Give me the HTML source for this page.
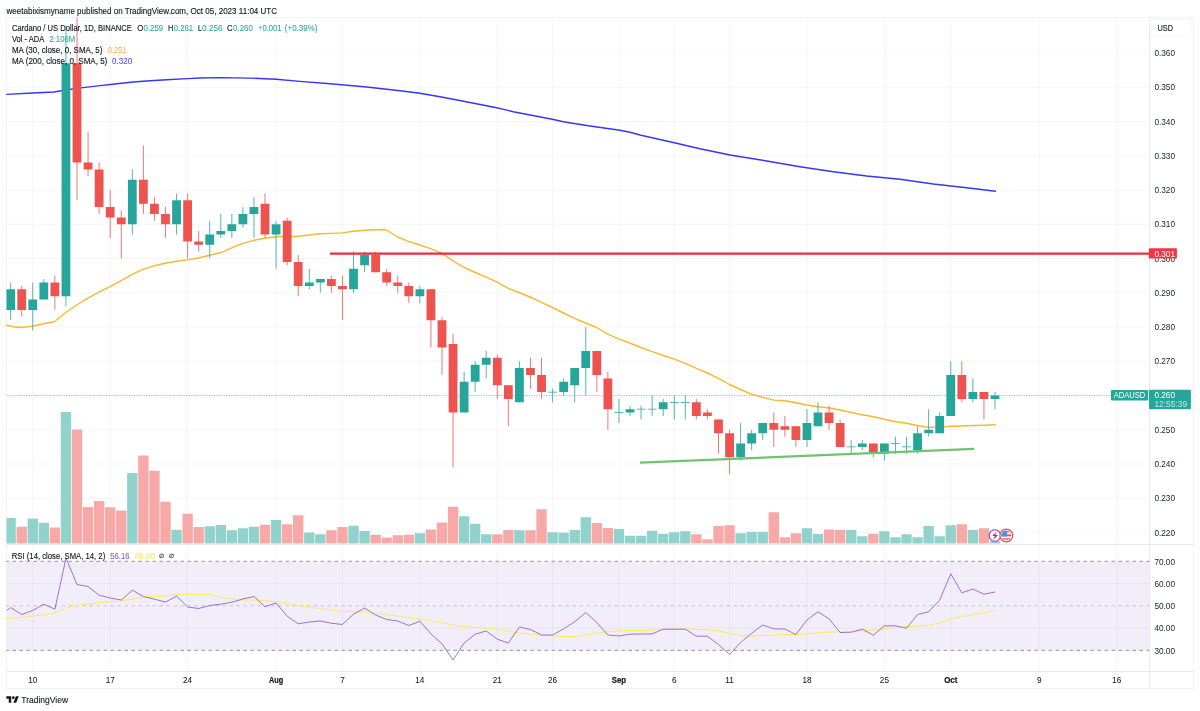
<!DOCTYPE html>
<html lang="en"><head><meta charset="utf-8"><title>ADAUSD chart</title>
<style>html,body{margin:0;padding:0;background:#fff}body{width:1200px;height:711px;overflow:hidden}svg{display:block}</style>
</head><body>
<svg width="1200" height="711" viewBox="0 0 1200 711" font-family="'Liberation Sans', sans-serif">
<rect width="1200" height="711" fill="#fff"/>
<defs><clipPath id="cm"><rect x="6.3" y="17.4" width="1143.2" height="527.1"/></clipPath><clipPath id="cr"><rect x="6.3" y="544.5" width="1143.2" height="127.0"/></clipPath></defs>
<rect x="6.3" y="561.30" width="1143.20" height="89.00" fill="#f1eefa"/>
<path d="M32.77 17.4V671.5M110.19 17.4V671.5M187.61 17.4V671.5M276.09 17.4V671.5M342.45 17.4V671.5M419.87 17.4V671.5M497.29 17.4V671.5M552.59 17.4V671.5M618.95 17.4V671.5M674.25 17.4V671.5M729.55 17.4V671.5M806.97 17.4V671.5M884.39 17.4V671.5M950.75 17.4V671.5M1039.23 17.4V671.5M1116.65 17.4V671.5M6.3 532.50H1149.5M6.3 498.25H1149.5M6.3 464.00H1149.5M6.3 429.75H1149.5M6.3 395.50H1149.5M6.3 361.25H1149.5M6.3 327.00H1149.5M6.3 292.75H1149.5M6.3 258.50H1149.5M6.3 224.25H1149.5M6.3 190.00H1149.5M6.3 155.75H1149.5M6.3 121.50H1149.5M6.3 87.25H1149.5M6.3 53.00H1149.5M6.3 583.55H1149.5M6.3 628.05H1149.5" stroke="#2a2e39" stroke-opacity="0.042" stroke-width="1" fill="none"/>
<path d="M6.3 17.4H1193.5V688.5H6.3Z" stroke="#eeeff2" stroke-width="0.9" fill="none"/>
<path d="M1149.5 17.4V688.5 M6.3 544.5H1193.5 M6.3 671.5H1193.5" stroke="#e7e8ec" stroke-width="0.9" fill="none"/>
<path d="M6.3 561.30H1149.5M6.3 650.30H1149.5" stroke="#787b86" stroke-width="0.8" stroke-dasharray="3.5 3.5" stroke-dashoffset="0.8" fill="none"/>
<path d="M6.3 605.80H1149.5" stroke="#787b86" stroke-opacity="0.45" stroke-width="0.8" stroke-dasharray="3.5 3.5" stroke-dashoffset="0.8" fill="none"/>
<g clip-path="url(#cm)"><path d="M6.30 518.10H15.83V543.5H6.30ZM27.59 518.50H37.95V543.5H27.59ZM38.65 522.70H49.01V543.5H38.65ZM60.77 412.10H71.13V543.5H60.77ZM127.13 472.90H137.49V543.5H127.13ZM171.37 529.80H181.73V543.5H171.37ZM204.55 526.30H214.91V543.5H204.55ZM215.61 525.00H225.97V543.5H215.61ZM226.67 530.30H237.03V543.5H226.67ZM237.73 528.20H248.09V543.5H237.73ZM248.79 526.70H259.15V543.5H248.79ZM270.91 520.00H281.27V543.5H270.91ZM304.09 532.50H314.45V543.5H304.09ZM315.15 534.20H325.51V543.5H315.15ZM348.33 525.70H358.69V543.5H348.33ZM359.39 531.00H369.75V543.5H359.39ZM414.69 533.30H425.05V543.5H414.69ZM458.93 516.20H469.29V543.5H458.93ZM469.99 523.80H480.35V543.5H469.99ZM481.05 534.20H491.41V543.5H481.05ZM514.23 530.30H524.59V543.5H514.23ZM547.41 532.20H557.77V543.5H547.41ZM558.47 532.80H568.83V543.5H558.47ZM569.53 530.00H579.89V543.5H569.53ZM580.59 517.20H590.95V543.5H580.59ZM613.77 529.00H624.13V543.5H613.77ZM624.83 535.70H635.19V543.5H624.83ZM635.89 535.70H646.25V543.5H635.89ZM646.95 530.80H657.31V543.5H646.95ZM658.01 533.80H668.37V543.5H658.01ZM669.07 532.30H679.43V543.5H669.07ZM680.13 531.20H690.49V543.5H680.13ZM735.43 533.30H745.79V543.5H735.43ZM746.49 531.80H756.85V543.5H746.49ZM757.55 531.80H767.91V543.5H757.55ZM801.79 528.30H812.15V543.5H801.79ZM812.85 534.00H823.21V543.5H812.85ZM846.03 530.00H856.39V543.5H846.03ZM857.09 536.20H867.45V543.5H857.09ZM879.21 531.30H889.57V543.5H879.21ZM890.27 537.20H900.63V543.5H890.27ZM901.33 534.20H911.69V543.5H901.33ZM912.39 537.20H922.75V543.5H912.39ZM923.45 526.00H933.81V543.5H923.45ZM934.51 536.20H944.87V543.5H934.51ZM945.57 525.20H955.93V543.5H945.57ZM967.69 530.00H978.05V543.5H967.69ZM989.81 541.30H1000.17V543.5H989.81Z" fill="#92d2cc"/><path d="M16.53 526.70H26.89V543.5H16.53ZM49.71 527.50H60.07V543.5H49.71ZM71.83 429.60H82.19V543.5H71.83ZM82.89 506.90H93.25V543.5H82.89ZM93.95 501.00H104.31V543.5H93.95ZM105.01 507.30H115.37V543.5H105.01ZM116.07 510.40H126.43V543.5H116.07ZM138.19 455.60H148.55V543.5H138.19ZM149.25 470.80H159.61V543.5H149.25ZM160.31 501.70H170.67V543.5H160.31ZM182.43 513.70H192.79V543.5H182.43ZM193.49 527.00H203.85V543.5H193.49ZM259.85 524.70H270.21V543.5H259.85ZM281.97 524.20H292.33V543.5H281.97ZM293.03 515.30H303.39V543.5H293.03ZM326.21 530.30H336.57V543.5H326.21ZM337.27 527.00H347.63V543.5H337.27ZM370.45 534.70H380.81V543.5H370.45ZM381.51 537.50H391.87V543.5H381.51ZM392.57 535.30H402.93V543.5H392.57ZM403.63 534.70H413.99V543.5H403.63ZM425.75 529.50H436.11V543.5H425.75ZM436.81 522.50H447.17V543.5H436.81ZM447.87 506.70H458.23V543.5H447.87ZM492.11 534.20H502.47V543.5H492.11ZM503.17 530.00H513.53V543.5H503.17ZM525.29 530.30H535.65V543.5H525.29ZM536.35 509.20H546.71V543.5H536.35ZM591.65 523.00H602.01V543.5H591.65ZM602.71 528.00H613.07V543.5H602.71ZM691.19 534.20H701.55V543.5H691.19ZM702.25 539.20H712.61V543.5H702.25ZM713.31 526.00H723.67V543.5H713.31ZM724.37 525.20H734.73V543.5H724.37ZM768.61 512.20H778.97V543.5H768.61ZM779.67 537.20H790.03V543.5H779.67ZM790.73 533.20H801.09V543.5H790.73ZM823.91 529.50H834.27V543.5H823.91ZM834.97 530.00H845.33V543.5H834.97ZM868.15 533.80H878.51V543.5H868.15ZM956.63 524.20H966.99V543.5H956.63ZM978.75 528.30H989.11V543.5H978.75Z" fill="#f7a9a7"/></g>
<g clip-path="url(#cm)">
<path d="M6.3 325.3L13.3 326.7L21.7 327.5L32.5 326.3L43.3 323.7L54.2 321.7L65.8 312.5L76.7 305.0L88.3 297.8L100.0 291.7L110.0 286.7L120.8 280.8L131.7 274.7L143.3 269.2L154.2 265.8L165.0 263.3L176.7 261.2L187.5 259.9L198.3 258.0L209.5 255.3L220.5 252.8L231.7 247.8L242.8 243.3L253.5 240.3L264.7 238.3L276.0 236.7L287.2 236.7L298.3 236.3L309.2 235.0L320.2 233.8L331.3 233.4L342.5 232.9L353.5 231.3L364.5 230.2L375.4 229.7L383.0 229.5L386.5 230.0L397.5 237.0L408.5 241.3L419.7 245.0L430.7 248.7L442.0 253.3L453.0 260.8L464.2 267.5L475.2 272.5L486.2 277.2L497.2 282.2L508.2 288.3L519.2 292.5L530.0 297.0L541.5 302.3L552.5 307.5L563.5 313.0L574.5 318.3L585.5 323.0L596.7 327.5L607.8 334.2L619.2 339.2L629.8 343.0L640.8 347.5L652.2 351.7L663.3 355.5L674.5 359.2L685.3 363.3L696.3 368.3L707.5 373.0L718.5 378.3L729.5 384.5L740.5 389.5L751.5 394.2L762.7 397.4L773.8 400.1L785.0 400.8L795.8 402.8L807.0 405.0L818.2 406.7L829.3 408.0L840.3 410.0L851.3 412.5L862.3 414.7L873.5 416.7L884.5 419.2L895.5 421.7L906.5 423.3L917.5 425.5L928.6 427.2L939.8 427.1L950.9 426.3L961.7 426.0L972.8 425.5L984.2 425.2L995.3 424.7" stroke="#fbb72e" stroke-width="1.4" fill="none" stroke-linejoin="round" stroke-linecap="round"/>
<path d="M6.3 94.4L32.5 93.0L54.0 92.0L65.7 90.0L76.7 88.4L100.0 85.6L112.5 84.3L133.3 82.0L150.0 80.8L166.7 79.7L187.5 78.6L200.0 78.0L220.0 77.6L250.0 78.1L276.0 79.3L300.0 81.4L333.3 84.0L366.7 87.0L400.0 90.7L420.0 93.3L440.0 96.7L453.3 99.3L496.7 107.7L513.3 111.7L552.3 119.3L563.3 121.7L590.0 126.0L620.0 130.3L630.0 132.3L640.0 135.0L674.3 142.7L700.0 148.7L730.0 155.0L766.7 161.0L800.0 166.7L833.3 171.7L866.7 176.0L900.0 179.3L933.3 184.0L966.7 187.7L995.5 191.2" stroke="#3734ff" stroke-width="1.4" fill="none" stroke-linejoin="round" stroke-linecap="round"/>
<path d="M10.65 282.48V320.15M32.77 282.48V330.43M43.83 279.05V299.60M65.95 25.60V306.45M132.31 169.45V234.53M176.55 193.43V234.53M209.73 220.82V258.50M220.79 213.97V237.95M231.85 213.97V237.95M242.91 207.12V227.68M253.97 196.85V237.95M276.09 220.82V268.77M309.27 268.77V289.32M320.33 279.05V292.75M353.51 251.65V292.75M364.57 251.65V272.20M419.87 285.90V303.02M464.11 371.52V412.62M475.17 361.25V392.07M486.23 350.98V378.38M519.41 361.25V402.35M552.59 388.65V402.35M563.65 378.38V395.50M574.71 368.10V402.35M585.77 327.00V395.50M618.95 398.92V422.90M630.01 405.77V416.05M641.07 405.77V419.48M652.13 395.50V416.05M663.19 398.92V416.05M674.25 395.50V419.48M685.31 395.50V419.48M740.61 422.90V460.57M751.67 429.75V450.30M762.73 422.90V440.02M806.97 409.20V446.88M818.03 402.35V426.32M851.21 440.02V453.73M862.27 440.02V450.30M884.39 443.45V460.57M895.45 436.60V453.73M906.51 436.60V453.73M917.57 426.32V453.73M928.63 409.20V436.60M939.69 412.62V433.17M950.75 361.25V416.05M972.87 378.38V402.35M994.99 392.07V409.20" stroke="#26a69a" stroke-width="0.8" fill="none"/>
<path d="M21.71 285.90V316.73M54.89 275.62V309.88M77.01 14.00V200.28M88.07 131.78V176.30M99.13 162.60V213.97M110.19 190.00V237.95M121.25 210.55V258.50M143.37 145.48V213.97M154.43 196.85V220.82M165.49 207.12V237.95M187.61 193.43V258.50M198.67 231.10V251.65M265.03 193.43V237.95M287.15 217.40V265.35M298.21 255.07V296.18M331.39 275.62V292.75M342.45 275.62V320.15M375.63 251.65V272.20M386.69 268.77V285.90M397.75 275.62V292.75M408.81 282.48V303.02M430.93 289.32V347.55M441.99 316.73V374.95M453.05 333.85V467.42M497.29 354.40V398.92M508.35 385.23V426.32M530.47 357.82V388.65M541.53 357.82V398.92M596.83 350.98V392.07M607.89 371.52V429.75M696.37 398.92V419.48M707.43 409.20V419.48M718.49 419.48V453.73M729.55 429.75V474.27M773.79 412.62V446.88M784.85 416.05V436.60M795.91 426.32V446.88M829.09 405.77V429.75M840.15 419.48V446.88M873.33 443.45V457.15M961.81 361.25V402.35M983.93 392.07V419.48" stroke="#ef5350" stroke-width="0.8" fill="none"/>
<path d="M6.25 289.32H15.05V309.88H6.25ZM28.37 299.60H37.17V309.88H28.37ZM39.43 282.48H48.23V299.60H39.43ZM61.55 63.28H70.35V296.18H61.55ZM127.91 179.73H136.71V224.25H127.91ZM172.15 200.28H180.95V224.25H172.15ZM205.33 234.53H214.13V244.80H205.33ZM216.39 231.10H225.19V234.53H216.39ZM227.45 224.25H236.25V231.10H227.45ZM238.51 213.97H247.31V224.25H238.51ZM249.57 207.12H258.37V213.97H249.57ZM271.69 224.25H280.49V234.53H271.69ZM304.87 282.48H313.67V285.90H304.87ZM315.93 279.05H324.73V282.48H315.93ZM349.11 268.77H357.91V289.32H349.11ZM360.17 255.07H368.97V265.35H360.17ZM415.47 289.32H424.27V296.18H415.47ZM459.71 381.80H468.51V412.62H459.71ZM470.77 364.68H479.57V381.80H470.77ZM481.83 357.82H490.63V364.68H481.83ZM515.01 368.10H523.81V402.35H515.01ZM548.19 391.68H556.99V392.47H548.19ZM559.25 381.80H568.05V392.07H559.25ZM570.31 368.10H579.11V385.23H570.31ZM581.37 350.98H590.17V368.10H581.37ZM614.55 412.23H623.35V413.02H614.55ZM625.61 409.20H634.41V412.62H625.61ZM636.67 408.80H645.47V409.60H636.67ZM647.73 408.80H656.53V409.60H647.73ZM658.79 402.35H667.59V409.20H658.79ZM669.85 401.95H678.65V402.75H669.85ZM680.91 401.95H689.71V402.75H680.91ZM736.21 443.45H745.01V457.15H736.21ZM747.27 433.17H756.07V443.45H747.27ZM758.33 422.90H767.13V433.17H758.33ZM802.57 422.90H811.37V440.02H802.57ZM813.63 412.62H822.43V426.32H813.63ZM846.81 446.48H855.61V447.27H846.81ZM857.87 443.45H866.67V446.88H857.87ZM879.99 443.45H888.79V453.73H879.99ZM891.05 443.05H899.85V443.85H891.05ZM902.11 446.48H910.91V447.27H902.11ZM913.17 433.17H921.97V450.30H913.17ZM924.23 429.75H933.03V433.17H924.23ZM935.29 416.05H944.09V433.17H935.29ZM946.35 374.95H955.15V416.05H946.35ZM968.47 392.07H977.27V398.92H968.47ZM990.59 395.50H999.39V398.92H990.59Z" fill="#26a69a"/>
<path d="M17.31 289.32H26.11V309.88H17.31ZM50.49 282.48H59.29V296.18H50.49ZM72.61 63.28H81.41V162.60H72.61ZM83.67 162.60H92.47V169.45H83.67ZM94.73 169.45H103.53V207.12H94.73ZM105.79 207.12H114.59V217.40H105.79ZM116.85 217.40H125.65V224.25H116.85ZM138.97 179.73H147.77V203.70H138.97ZM150.03 203.70H158.83V213.97H150.03ZM161.09 213.97H169.89V224.25H161.09ZM183.21 200.28H192.01V241.38H183.21ZM194.27 241.38H203.07V244.80H194.27ZM260.63 203.70H269.43V234.53H260.63ZM282.75 220.82H291.55V261.93H282.75ZM293.81 261.93H302.61V285.90H293.81ZM326.99 279.05H335.79V285.90H326.99ZM338.05 285.90H346.85V289.32H338.05ZM371.23 255.07H380.03V272.20H371.23ZM382.29 272.20H391.09V282.48H382.29ZM393.35 282.48H402.15V285.90H393.35ZM404.41 285.90H413.21V296.18H404.41ZM426.53 289.32H435.33V320.15H426.53ZM437.59 320.15H446.39V347.55H437.59ZM448.65 344.12H457.45V412.62H448.65ZM492.89 357.82H501.69V385.23H492.89ZM503.95 385.23H512.75V398.92H503.95ZM526.07 368.10H534.87V374.95H526.07ZM537.13 374.95H545.93V392.07H537.13ZM592.43 350.98H601.23V374.95H592.43ZM603.49 378.38H612.29V409.20H603.49ZM691.97 402.35H700.77V416.05H691.97ZM703.03 412.62H711.83V416.05H703.03ZM714.09 419.48H722.89V433.17H714.09ZM725.15 433.17H733.95V457.15H725.15ZM769.39 422.90H778.19V429.75H769.39ZM780.45 426.32H789.25V429.75H780.45ZM791.51 426.32H800.31V440.02H791.51ZM824.69 412.62H833.49V422.90H824.69ZM835.75 422.90H844.55V446.88H835.75ZM868.93 443.45H877.73V453.73H868.93ZM957.41 374.95H966.21V398.92H957.41ZM979.53 392.07H988.33V398.92H979.53Z" fill="#ef5350"/>
<path d="M330 253.6H1149.5" stroke="#f0283f" stroke-width="2.4" fill="none"/>
<path d="M640 462.7L974 448.9" stroke="#70c273" stroke-width="2.3" fill="none"/>
</g>
<path d="M6.3 395.50H1111" stroke="#26a69a" stroke-width="0.9" stroke-dasharray="1.0 1.5" stroke-opacity="0.6" fill="none"/>
<g clip-path="url(#cr)">
<path d="M6.3 618.8L10.7 618.2L21.7 617.5L32.8 616.2L43.8 615.0L54.9 613.0L66.0 608.0L77.0 605.5L88.1 603.8L99.1 602.5L110.2 602.0L121.3 601.0L132.3 599.2L143.4 597.2L154.4 596.5L165.5 596.0L176.6 594.8L187.6 594.2L198.7 594.8L209.7 594.5L220.8 597.5L231.9 599.0L242.9 600.0L254.0 600.0L265.0 600.8L276.1 601.5L287.1 603.2L298.2 605.5L309.3 607.0L320.3 608.5L331.4 610.2L342.4 611.5L353.5 611.8L364.6 612.0L375.6 613.5L386.7 614.5L397.8 616.0L408.8 617.8L419.9 619.0L430.9 620.8L442.0 622.8L453.1 625.0L464.1 626.5L475.2 627.5L486.2 628.2L497.3 629.2L508.4 631.2L519.4 633.0L530.5 634.0L541.5 635.2L552.6 636.0L563.6 636.5L574.7 636.5L585.8 635.0L596.8 633.2L607.9 631.8L619.0 630.8L630.0 630.5L641.1 630.5L652.1 630.2L663.2 629.5L674.2 629.2L685.3 629.2L696.4 629.2L707.4 629.8L718.5 630.8L729.5 633.2L740.6 635.5L751.7 636.2L762.7 635.5L773.8 635.2L784.9 634.5L795.9 634.5L807.0 633.8L818.0 632.8L829.1 632.0L840.1 632.0L851.2 632.0L862.3 631.0L873.3 630.0L884.4 628.5L895.5 627.5L906.5 626.8L917.6 626.2L928.6 625.0L939.7 623.0L950.8 618.8L961.8 616.5L972.9 614.8L983.9 613.0L995.0 610.5" stroke="#ffe95a" stroke-width="1" fill="none" stroke-linejoin="round"/>
<path d="M6.3 610.8L10.7 607.5L21.7 614.5L32.8 610.5L43.8 604.2L54.9 609.2L66.0 558.0L77.0 584.5L88.1 586.5L99.1 595.2L110.2 598.0L121.3 600.0L132.3 590.2L143.4 596.5L154.4 599.2L165.5 602.0L176.6 596.2L187.6 607.0L198.7 608.5L209.7 605.5L220.8 604.2L231.9 602.2L242.9 599.0L254.0 596.5L265.0 606.8L276.1 603.0L287.1 616.2L298.2 623.8L309.3 622.0L320.3 621.0L331.4 623.2L342.4 624.5L353.5 614.2L364.6 608.0L375.6 615.0L386.7 619.5L397.8 621.0L408.8 625.5L419.9 621.2L430.9 633.8L442.0 643.8L453.1 660.0L464.1 643.0L475.2 634.2L486.2 631.0L497.3 639.2L508.4 643.0L519.4 627.0L530.5 629.5L541.5 635.0L552.6 635.0L563.6 628.8L574.7 621.8L585.8 612.5L596.8 622.5L607.9 635.0L619.0 636.0L630.0 634.2L641.1 634.0L652.1 634.0L663.2 629.2L674.2 629.2L685.3 629.2L696.4 636.2L707.4 636.2L718.5 644.5L729.5 654.5L740.6 642.5L751.7 633.2L762.7 625.0L773.8 628.8L784.9 629.0L795.9 634.5L807.0 620.0L818.0 611.8L829.1 618.8L840.1 632.5L851.2 632.2L862.3 629.2L873.3 635.2L884.4 625.8L895.5 625.8L906.5 628.2L917.6 614.5L928.6 611.8L939.7 600.0L950.8 573.8L961.8 592.8L972.9 589.0L983.9 594.2L995.0 592.0" stroke="#7e57c2" stroke-width="0.8" fill="none" stroke-linejoin="round"/>
</g>
<g><circle cx="994.9" cy="535.5" r="5.75" fill="#fff" stroke="#a43bbf" stroke-width="1.1"/><path d="M996.7 531.4l-4.4 4.6h2.6l-1.5 4 4.5-4.9h-2.7z" fill="#9c27b0"/><circle cx="1006.35" cy="535.5" r="6.4" fill="#fff" stroke="#f5455a" stroke-width="1.2"/><clipPath id="fl"><circle cx="1006.35" cy="535.5" r="5"/></clipPath><g clip-path="url(#fl)"><rect x="1001" y="530" width="11" height="11" fill="#fff"/><rect x="1001" y="531.1" width="11" height="1.2" fill="#ef5350"/><rect x="1001" y="534.4" width="11" height="1.9" fill="#ef5350"/><rect x="1001" y="538.2" width="11" height="1.4" fill="#ef5350"/><rect x="1001" y="530" width="6.2" height="6.5" fill="#3f96ee"/></g></g>
<rect x="1151.4" y="19.5" width="39.8" height="16.8" rx="2.5" fill="#fff" stroke="#f2f3f6" stroke-width="0.8"/>
<text x="6.50" y="13.70" font-size="8.5" fill="#131722" stroke="#131722" stroke-width="0.13" textLength="270.60" lengthAdjust="spacingAndGlyphs">weetabixismyname published on TradingView.com, Oct 05, 2023 11:04 UTC</text>
<text x="11.90" y="31.30" font-size="8.35" fill="#131722" stroke="#131722" stroke-width="0.13" textLength="120.00" lengthAdjust="spacingAndGlyphs">Cardano / US Dollar, 1D, BINANCE</text>
<text x="137.20" y="31.30" font-size="8.35" fill="#131722" stroke="#131722" stroke-width="0.13" textLength="6.10" lengthAdjust="spacingAndGlyphs">O</text>
<text x="143.60" y="31.30" font-size="8.35" fill="#26a69a" stroke="#26a69a" stroke-width="0.05" textLength="19.50" lengthAdjust="spacingAndGlyphs">0.259</text>
<text x="168.10" y="31.30" font-size="8.35" fill="#131722" stroke="#131722" stroke-width="0.13" textLength="5.30" lengthAdjust="spacingAndGlyphs">H</text>
<text x="173.70" y="31.30" font-size="8.35" fill="#26a69a" stroke="#26a69a" stroke-width="0.05" textLength="19.40" lengthAdjust="spacingAndGlyphs">0.261</text>
<text x="197.90" y="31.30" font-size="8.35" fill="#131722" stroke="#131722" stroke-width="0.13" textLength="3.90" lengthAdjust="spacingAndGlyphs">L</text>
<text x="202.10" y="31.30" font-size="8.35" fill="#26a69a" stroke="#26a69a" stroke-width="0.05" textLength="20.40" lengthAdjust="spacingAndGlyphs">0.256</text>
<text x="227.10" y="31.30" font-size="8.35" fill="#131722" stroke="#131722" stroke-width="0.13" textLength="5.60" lengthAdjust="spacingAndGlyphs">C</text>
<text x="233.00" y="31.30" font-size="8.35" fill="#26a69a" stroke="#26a69a" stroke-width="0.05" textLength="19.90" lengthAdjust="spacingAndGlyphs">0.260</text>
<text x="258.10" y="31.30" font-size="8.35" fill="#26a69a" stroke="#26a69a" stroke-width="0.05" textLength="23.40" lengthAdjust="spacingAndGlyphs">+0.001</text>
<text x="284.80" y="31.30" font-size="8.35" fill="#26a69a" stroke="#26a69a" stroke-width="0.05" textLength="32.70" lengthAdjust="spacingAndGlyphs">(+0.39%)</text>
<text x="11.90" y="42.10" font-size="8.35" fill="#131722" stroke="#131722" stroke-width="0.13" textLength="32.50" lengthAdjust="spacingAndGlyphs">Vol - ADA</text>
<text x="49.40" y="42.10" font-size="8.35" fill="#26a69a" stroke="#26a69a" stroke-width="0.05" textLength="25.90" lengthAdjust="spacingAndGlyphs">2.106M</text>
<text x="11.90" y="53.00" font-size="8.35" fill="#131722" stroke="#131722" stroke-width="0.13" textLength="90.60" lengthAdjust="spacingAndGlyphs">MA (30, close, 0, SMA, 5)</text>
<text x="107.80" y="53.00" font-size="8.35" fill="#ffb333" stroke="#ffb333" stroke-width="0.05" textLength="18.70" lengthAdjust="spacingAndGlyphs">0.251</text>
<text x="11.90" y="63.80" font-size="8.35" fill="#131722" stroke="#131722" stroke-width="0.13" textLength="95.40" lengthAdjust="spacingAndGlyphs">MA (200, close, 0, SMA, 5)</text>
<text x="112.10" y="63.80" font-size="8.35" fill="#4f46ff" stroke="#4f46ff" stroke-width="0.05" textLength="20.20" lengthAdjust="spacingAndGlyphs">0.320</text>
<text x="11.80" y="558.70" font-size="8.35" fill="#131722" stroke="#131722" stroke-width="0.13" textLength="93.40" lengthAdjust="spacingAndGlyphs">RSI (14, close, SMA, 14, 2)</text>
<text x="110.30" y="558.70" font-size="8.35" fill="#7e57c2" stroke="#7e57c2" stroke-width="0.05" textLength="19.10" lengthAdjust="spacingAndGlyphs">56.16</text>
<text x="134.50" y="558.70" font-size="8.35" fill="#ffe95a" stroke="#ffe95a" stroke-width="0.05" textLength="20.50" lengthAdjust="spacingAndGlyphs">48.00</text>
<text x="159.40" y="558.20" font-size="5.8" fill="#131722" stroke="#131722" stroke-width="0.15">∅</text>
<text x="169.40" y="558.20" font-size="5.8" fill="#131722" stroke="#131722" stroke-width="0.15">∅</text>
<text x="1154.40" y="535.60" font-size="8.2" fill="#1c202b" textLength="20.60" lengthAdjust="spacingAndGlyphs">0.220</text>
<text x="1154.40" y="501.35" font-size="8.2" fill="#1c202b" textLength="20.60" lengthAdjust="spacingAndGlyphs">0.230</text>
<text x="1154.40" y="467.10" font-size="8.2" fill="#1c202b" textLength="20.60" lengthAdjust="spacingAndGlyphs">0.240</text>
<text x="1154.40" y="432.85" font-size="8.2" fill="#1c202b" textLength="20.60" lengthAdjust="spacingAndGlyphs">0.250</text>
<text x="1154.40" y="398.60" font-size="8.2" fill="#1c202b" textLength="20.60" lengthAdjust="spacingAndGlyphs">0.260</text>
<text x="1154.40" y="364.35" font-size="8.2" fill="#1c202b" textLength="20.60" lengthAdjust="spacingAndGlyphs">0.270</text>
<text x="1154.40" y="330.10" font-size="8.2" fill="#1c202b" textLength="20.60" lengthAdjust="spacingAndGlyphs">0.280</text>
<text x="1154.40" y="295.85" font-size="8.2" fill="#1c202b" textLength="20.60" lengthAdjust="spacingAndGlyphs">0.290</text>
<text x="1154.40" y="261.60" font-size="8.2" fill="#1c202b" textLength="20.60" lengthAdjust="spacingAndGlyphs">0.300</text>
<text x="1154.40" y="227.35" font-size="8.2" fill="#1c202b" textLength="20.60" lengthAdjust="spacingAndGlyphs">0.310</text>
<text x="1154.40" y="193.10" font-size="8.2" fill="#1c202b" textLength="20.60" lengthAdjust="spacingAndGlyphs">0.320</text>
<text x="1154.40" y="158.85" font-size="8.2" fill="#1c202b" textLength="20.60" lengthAdjust="spacingAndGlyphs">0.330</text>
<text x="1154.40" y="124.60" font-size="8.2" fill="#1c202b" textLength="20.60" lengthAdjust="spacingAndGlyphs">0.340</text>
<text x="1154.40" y="90.35" font-size="8.2" fill="#1c202b" textLength="20.60" lengthAdjust="spacingAndGlyphs">0.350</text>
<text x="1154.40" y="56.10" font-size="8.2" fill="#1c202b" textLength="20.60" lengthAdjust="spacingAndGlyphs">0.360</text>
<text x="1154.40" y="564.70" font-size="8.2" fill="#1c202b" textLength="20.60" lengthAdjust="spacingAndGlyphs">70.00</text>
<text x="1154.40" y="586.95" font-size="8.2" fill="#1c202b" textLength="20.60" lengthAdjust="spacingAndGlyphs">60.00</text>
<text x="1154.40" y="609.20" font-size="8.2" fill="#1c202b" textLength="20.60" lengthAdjust="spacingAndGlyphs">50.00</text>
<text x="1154.40" y="631.45" font-size="8.2" fill="#1c202b" textLength="20.60" lengthAdjust="spacingAndGlyphs">40.00</text>
<text x="1154.40" y="653.70" font-size="8.2" fill="#1c202b" textLength="20.60" lengthAdjust="spacingAndGlyphs">30.00</text>
<rect x="1148.8" y="248.2" width="28.1" height="10.4" rx="0.8" fill="#f23645"/>
<rect x="1110.9" y="390" width="37.3" height="10.5" rx="1" fill="#26a69a"/>
<rect x="1149" y="389.8" width="41.9" height="19.5" rx="1" fill="#26a69a"/>
<text x="1157.50" y="30.80" font-size="8.4" fill="#131722" stroke="#131722" stroke-width="0.13" textLength="15.60" lengthAdjust="spacingAndGlyphs">USD</text>
<text x="1154.40" y="256.50" font-size="8.2" fill="#fff" textLength="20.60" lengthAdjust="spacingAndGlyphs">0.301</text>
<text x="1113.80" y="398.20" font-size="8.4" fill="#fff" textLength="31.50" lengthAdjust="spacingAndGlyphs">ADAUSD</text>
<text x="1154.40" y="398.00" font-size="8.2" fill="#fff" textLength="20.60" lengthAdjust="spacingAndGlyphs">0.260</text>
<text x="1154.40" y="407.30" font-size="8.2" fill="#fff" fill-opacity="0.72" textLength="32.70" lengthAdjust="spacingAndGlyphs">12:55:39</text>
<text x="32.77" y="683.45" font-size="8.2" fill="#131722" text-anchor="middle" stroke="#131722" stroke-width="0.05">10</text>
<text x="110.19" y="683.45" font-size="8.2" fill="#131722" text-anchor="middle" stroke="#131722" stroke-width="0.05">17</text>
<text x="187.61" y="683.45" font-size="8.2" fill="#131722" text-anchor="middle" stroke="#131722" stroke-width="0.05">24</text>
<text x="276.09" y="683.45" font-size="8.2" fill="#131722" font-weight="bold" text-anchor="middle" stroke="#131722" stroke-width="0.22" textLength="14.20" lengthAdjust="spacingAndGlyphs">Aug</text>
<text x="342.45" y="683.45" font-size="8.2" fill="#131722" text-anchor="middle" stroke="#131722" stroke-width="0.05">7</text>
<text x="419.87" y="683.45" font-size="8.2" fill="#131722" text-anchor="middle" stroke="#131722" stroke-width="0.05">14</text>
<text x="497.29" y="683.45" font-size="8.2" fill="#131722" text-anchor="middle" stroke="#131722" stroke-width="0.05">21</text>
<text x="552.59" y="683.45" font-size="8.2" fill="#131722" text-anchor="middle" stroke="#131722" stroke-width="0.05">26</text>
<text x="618.95" y="683.45" font-size="8.2" fill="#131722" font-weight="bold" text-anchor="middle" stroke="#131722" stroke-width="0.22" textLength="14.20" lengthAdjust="spacingAndGlyphs">Sep</text>
<text x="674.25" y="683.45" font-size="8.2" fill="#131722" text-anchor="middle" stroke="#131722" stroke-width="0.05">6</text>
<text x="729.55" y="683.45" font-size="8.2" fill="#131722" text-anchor="middle" stroke="#131722" stroke-width="0.05">11</text>
<text x="806.97" y="683.45" font-size="8.2" fill="#131722" text-anchor="middle" stroke="#131722" stroke-width="0.05">18</text>
<text x="884.39" y="683.45" font-size="8.2" fill="#131722" text-anchor="middle" stroke="#131722" stroke-width="0.05">25</text>
<text x="950.75" y="683.45" font-size="8.2" fill="#131722" font-weight="bold" text-anchor="middle" stroke="#131722" stroke-width="0.22" textLength="13.20" lengthAdjust="spacingAndGlyphs">Oct</text>
<text x="1039.23" y="683.45" font-size="8.2" fill="#131722" text-anchor="middle" stroke="#131722" stroke-width="0.05">9</text>
<text x="1116.65" y="683.45" font-size="8.2" fill="#131722" text-anchor="middle" stroke="#131722" stroke-width="0.05">16</text>
<g transform="translate(6.3,694.9) scale(0.352)" fill="#131722"><path d="M14 22H7V11H0V4h14v18zM28 22h-8l7.5-18h8L28 22z"/><circle cx="20" cy="8" r="4"/></g>
<text x="21.30" y="702.70" font-size="9.0" fill="#131722" stroke="#131722" stroke-width="0.1" textLength="46.80" lengthAdjust="spacingAndGlyphs">TradingView</text>
</svg>
</body></html>
